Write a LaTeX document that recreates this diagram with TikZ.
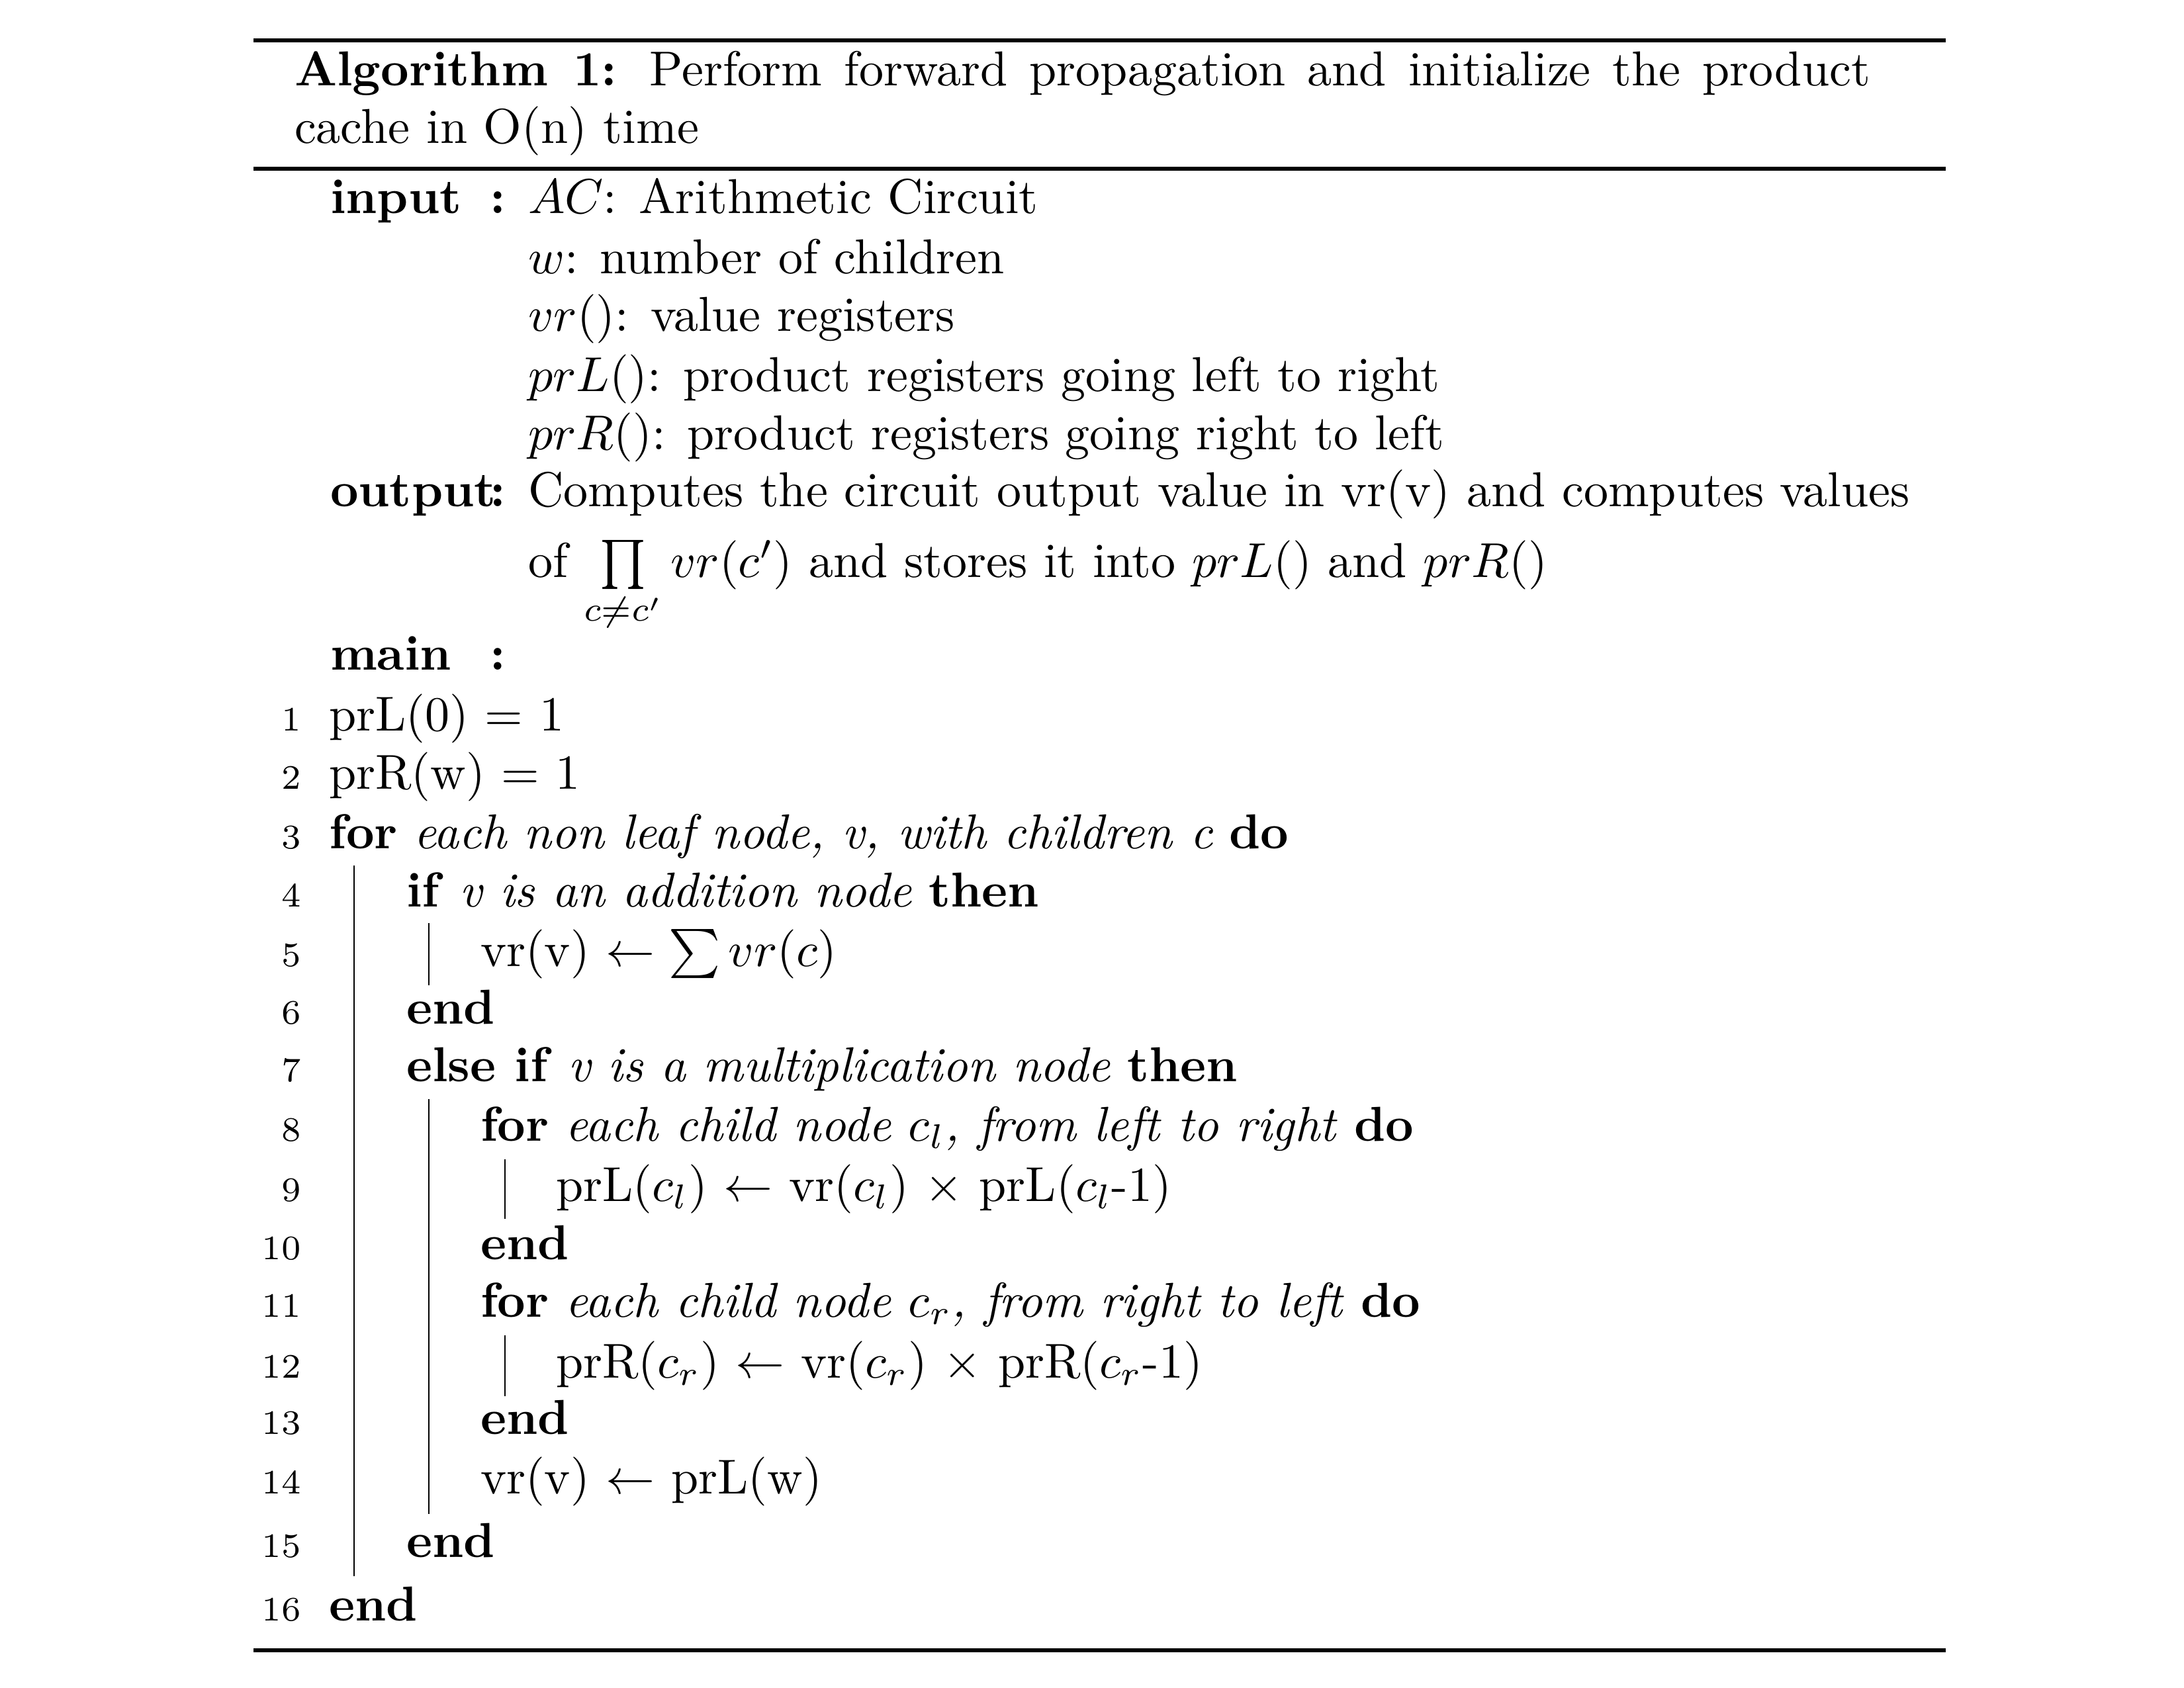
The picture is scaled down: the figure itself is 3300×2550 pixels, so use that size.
\documentclass[tikz,border=0pt]{standalone}
\usepackage{amsmath,amssymb}
\begin{document}
\begin{tikzpicture}[%
  x=0.13503pt,y=-0.13503pt,
  txt/.style={anchor=base west,inner sep=0pt,outer sep=0pt},
  kwlabel/.style={txt,font=\bfseries},
  kwcolon/.style={anchor=base east,inner sep=0pt,font=\bfseries},
  lineno/.style={anchor=base east,inner sep=0pt,font=\scriptsize},
  rule/.style={line width=0.8pt},
  blockbar/.style={line width=0.4pt}]
    \useasboundingbox (0,0) rectangle (3300,2550);
    % Rules
    \draw[rule] (383,61) -- (2940,61);
    \draw[rule] (383,255) -- (2940,255);
    \draw[rule] (383,2494) -- (2940,2494);
    % Caption
    \node[txt] (cap1) at (445,129)
      {\makebox[321.5pt][s]{\textbf{Algorithm 1:} Perform forward propagation and initialize the product}};
    \node[txt] (cap2) at (445,216) {cache in O(n) time};
    % Input and output
    \node[kwlabel] (in) at (499,322) {input};
    \node[kwcolon] (inc) at (766,322) {:};
    \node[txt] (ac) at (798,322) {$AC$: Arithmetic Circuit};
    \node[txt] (w) at (798,413) {$w$: number of children};
    \node[txt] (vr) at (798,500) {$vr()$: value registers};
    \node[txt] (prl) at (798,591) {$prL()$: product registers going left to right};
    \node[txt] (prr) at (798,679) {$prR()$: product registers going right to left};
    \node[kwlabel] (out) at (499,765) {output};
    \node[kwcolon] (outc) at (766,765) {:};
    \node[txt] (out1) at (798,765) {Computes the circuit output value in vr(v) and computes values};
    \node[txt] (out2) at (798,872)
      {of $\prod\limits_{c\neq c'} vr(c')$ and stores it into $prL()$ and $prR()$};
    \node[kwlabel] (main) at (499,1012) {main};
    \node[kwcolon] (mainc) at (766,1012) {:};
    % Line numbers
    \foreach \n/\y in {1/1104,2/1192,3/1282,4/1370,5/1460,6/1547,7/1634,8/1724,
                       9/1815,10/1903,11/1990,12/2082,13/2167,14/2257,15/2353,16/2449}
      \node[lineno] (n\n) at (456,\y) {\n};
    % Code lines
    \node[txt] (l1) at (497,1104) {prL(0) = 1};
    \node[txt] (l2) at (497,1192) {prR(w) = 1};
    \node[txt] (l3) at (497,1282)
      {\textbf{for} \textit{each non leaf node, v, with children c} \textbf{do}};
    \node[txt] (l4) at (614,1370) {\textbf{if} \textit{v is an addition node} \textbf{then}};
    \node[txt] (l5) at (726,1460) {vr(v) $\leftarrow \sum vr(c)$};
    \node[txt] (l6) at (614,1547) {\textbf{end}};
    \node[txt] (l7) at (614,1634)
      {\textbf{else if} \textit{v is a multiplication node} \textbf{then}};
    \node[txt] (l8) at (726,1724)
      {\textbf{for} \textit{each child node $c_l$, from left to right} \textbf{do}};
    \node[txt] (l9) at (840,1815)
      {prL($c_l$) $\leftarrow$ vr($c_l$) $\times$ prL($c_l$-1)};
    \node[txt] (l10) at (726,1903) {\textbf{end}};
    \node[txt] (l11) at (726,1990)
      {\textbf{for} \textit{each child node $c_r$, from right to left} \textbf{do}};
    \node[txt] (l12) at (840,2082)
      {prR($c_r$) $\leftarrow$ vr($c_r$) $\times$ prR($c_r$-1)};
    \node[txt] (l13) at (726,2167) {\textbf{end}};
    \node[txt] (l14) at (726,2257) {vr(v) $\leftarrow$ prL(w)};
    \node[txt] (l15) at (614,2353) {\textbf{end}};
    \node[txt] (l16) at (497,2449) {\textbf{end}};
    % Block bars
    \foreach \x/\a/\b in {535/1308/2382,648/1395/1489,648/1661/2288,
                          763/1752/1842,763/2018/2110}
      \draw[blockbar] (\x,\a) -- (\x,\b);
\end{tikzpicture}
\end{document}
